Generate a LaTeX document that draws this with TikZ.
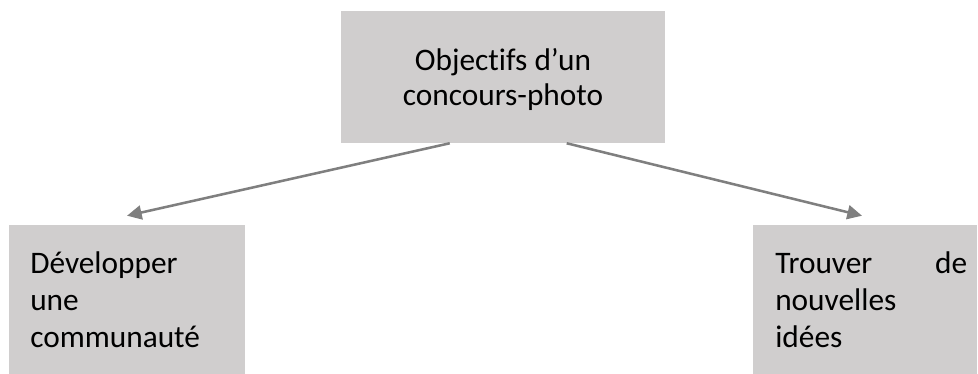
\documentclass[tikz,border=0pt]{standalone}
\usepackage{fontspec}
\setmainfont{Carlito}[Ligatures=NoCommon]
\usetikzlibrary{calc,arrows.meta}
\definecolor{boxgray}{HTML}{D0CECE}
\definecolor{arrowgray}{HTML}{7F7F7F}
\tikzset{
  graybox/.style={draw=none, fill=boxgray, rectangle, inner sep=0pt},
  boxtext/.style={inner sep=0pt, font=\fontsize{23.5}{28}\selectfont},
  conn/.style={draw=arrowgray, line width=1.9pt, -{Triangle[length=11pt,width=10.5pt]}}
}
\begin{document}
\begin{tikzpicture}[x=0.75pt,y=-0.75pt]
\useasboundingbox (0,0) rectangle (978,374);
% boxes
\node[graybox, minimum width=243pt, minimum height=99pt] (top) at (503,77) {};
\node[graybox, minimum width=177pt, minimum height=111.75pt] (left) at (127,299.5) {};
\node[graybox, minimum width=168pt, minimum height=111.75pt] (right) at (865,299.5) {};
% texts
\node[boxtext, anchor=base] (toptext) at (503,71)
  {\parbox[t]{230pt}{\centering\fontsize{23.5}{26.25}\selectfont Objectifs d’un\\concours-photo}};
\node[boxtext, anchor=base west] (lefttext) at (30,273)
  {\parbox[t]{150pt}{\fontsize{23.5}{28}\selectfont Développer\\une\\communauté}};
\node[boxtext, anchor=base west] (righttext) at (775,273)
  {\parbox[t]{144pt}{\fontsize{23.5}{28}\selectfont Trouver\hfill de\\nouvelles\\idées}};
% connectors
\coordinate (tl) at ($(top.south west)+(109,0)$);
\coordinate (tr) at ($(top.south west)+(226,0)$);
\coordinate (lt) at ($(left.north)+(0,-9)$);
\coordinate (rt) at ($(right.north)+(-3,-9)$);
\draw[conn] (tl) -- (lt);
\draw[conn] (tr) -- (rt);
\end{tikzpicture}
\end{document}
